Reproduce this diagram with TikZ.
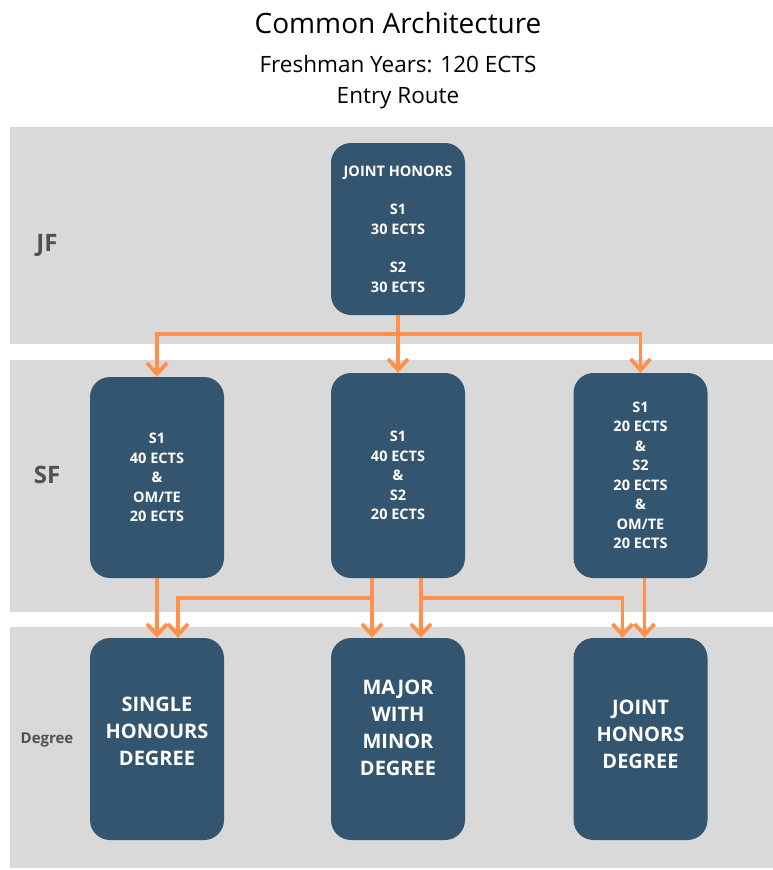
\documentclass[tikz,border=0pt]{standalone}
\usepackage{fontspec}
\setmainfont{Open Sans}
\usepackage{pgf,tikz}
\usetikzlibrary{arrows.meta}

\definecolor{boxblue}{HTML}{34556F}
\definecolor{linkorange}{HTML}{FF914D}
\definecolor{bandgray}{HTML}{D9D9D9}
\definecolor{labelgray}{HTML}{505050}

\tikzset{
  band/.style={fill=bandgray, draw=none},
  yearbox/.style={fill=boxblue, rounded corners=20pt, minimum width=134pt, inner sep=0pt,
    text=white, align=center, font=\bfseries\fontsize{14.5}{19.5}\selectfont},
  degtext/.style={text=white, align=center, font=\bfseries\fontsize{20}{27}\selectfont},
  yearlabel/.style={text=labelgray, font=\bfseries\fontsize{24}{28}\selectfont},
  link/.style={draw=linkorange, line width=3.8pt, -{Straight Barb[length=11pt, width=20pt]}}
}

\begin{document}
\begin{tikzpicture}[x=1pt,y=-1pt]
\useasboundingbox (0,0) rectangle (773,870);
\fill [band] (10,127) rectangle (773,344);
\fill [band] (10,360) rectangle (773,612);
\fill [band] (10,627) rectangle (773,868);

\node [font=\fontsize{28}{32}\selectfont] (title) at (398,23) {Common Architecture};
\node [font=\fontsize{22.5}{30.5}\selectfont, align=center] (subtitle) at (398,82) {Freshman Years: 120 ECTS\\Entry Route};

\node [yearlabel] (jf) at (47,245) {JF};
\node [yearlabel] (sf) at (47,475) {SF};
\node [yearlabel, font=\bfseries\fontsize{15}{17}\selectfont] (deg) at (47,740) {Degree};

\node [yearbox, minimum height=172pt] (jh) at (398,229) {JOINT HONORS\\[19pt]S1\\30 ECTS\\[19pt]S2\\30 ECTS};

\node [yearbox, minimum height=201pt] (sf1) at (157,477.5) {S1\\40 ECTS\\\&\\OM/TE\\20 ECTS};
\node [yearbox, minimum height=205pt] (sf2) at (398,475.5) {S1\\40 ECTS\\\&\\S2\\20 ECTS};
\node [yearbox, minimum height=205pt] (sf3) at (640.5,475.5) {S1\\20 ECTS\\\&\\S2\\20 ECTS\\\&\\OM/TE\\20 ECTS};

\node [yearbox, minimum height=202pt] (dg1) at (157,739) {};
\node [yearbox, minimum height=202pt] (dg2) at (398,739) {};
\node [yearbox, minimum height=202pt] (dg3) at (640.5,739) {};
\node [degtext] (dg1text) at ([yshift=8pt]dg1.center) {SINGLE\\HONOURS\\DEGREE};
\node [degtext] (dg2text) at ([yshift=11pt]dg2.center) {MAJOR\\WITH\\MINOR\\DEGREE};
\node [degtext] (dg3text) at ([yshift=5pt]dg3.center) {JOINT\\HONORS\\DEGREE};

\coordinate (jsplit) at (398,334);
\coordinate (mleft) at (372,598);
\coordinate (mright) at (421,598);

\draw [link] (jh) -- (sf2);
\draw [link] (jsplit) -| (sf1);
\draw [link] (jsplit) -| (sf3);

\draw [link] (sf1) -- (dg1);
\draw [link] ([xshift=-26pt]sf2.south) -- ([xshift=-26pt]dg2.north);
\draw [link] (mleft) -| ([xshift=21pt]dg1.north);
\draw [link] ([xshift=23pt]sf2.south) -- ([xshift=23pt]dg2.north);
\draw [link] (mright) -| ([xshift=-18pt]dg3.north);
\draw [link] ([xshift=4pt]sf3.south) -- ([xshift=4pt]dg3.north);
\end{tikzpicture}
\end{document}
